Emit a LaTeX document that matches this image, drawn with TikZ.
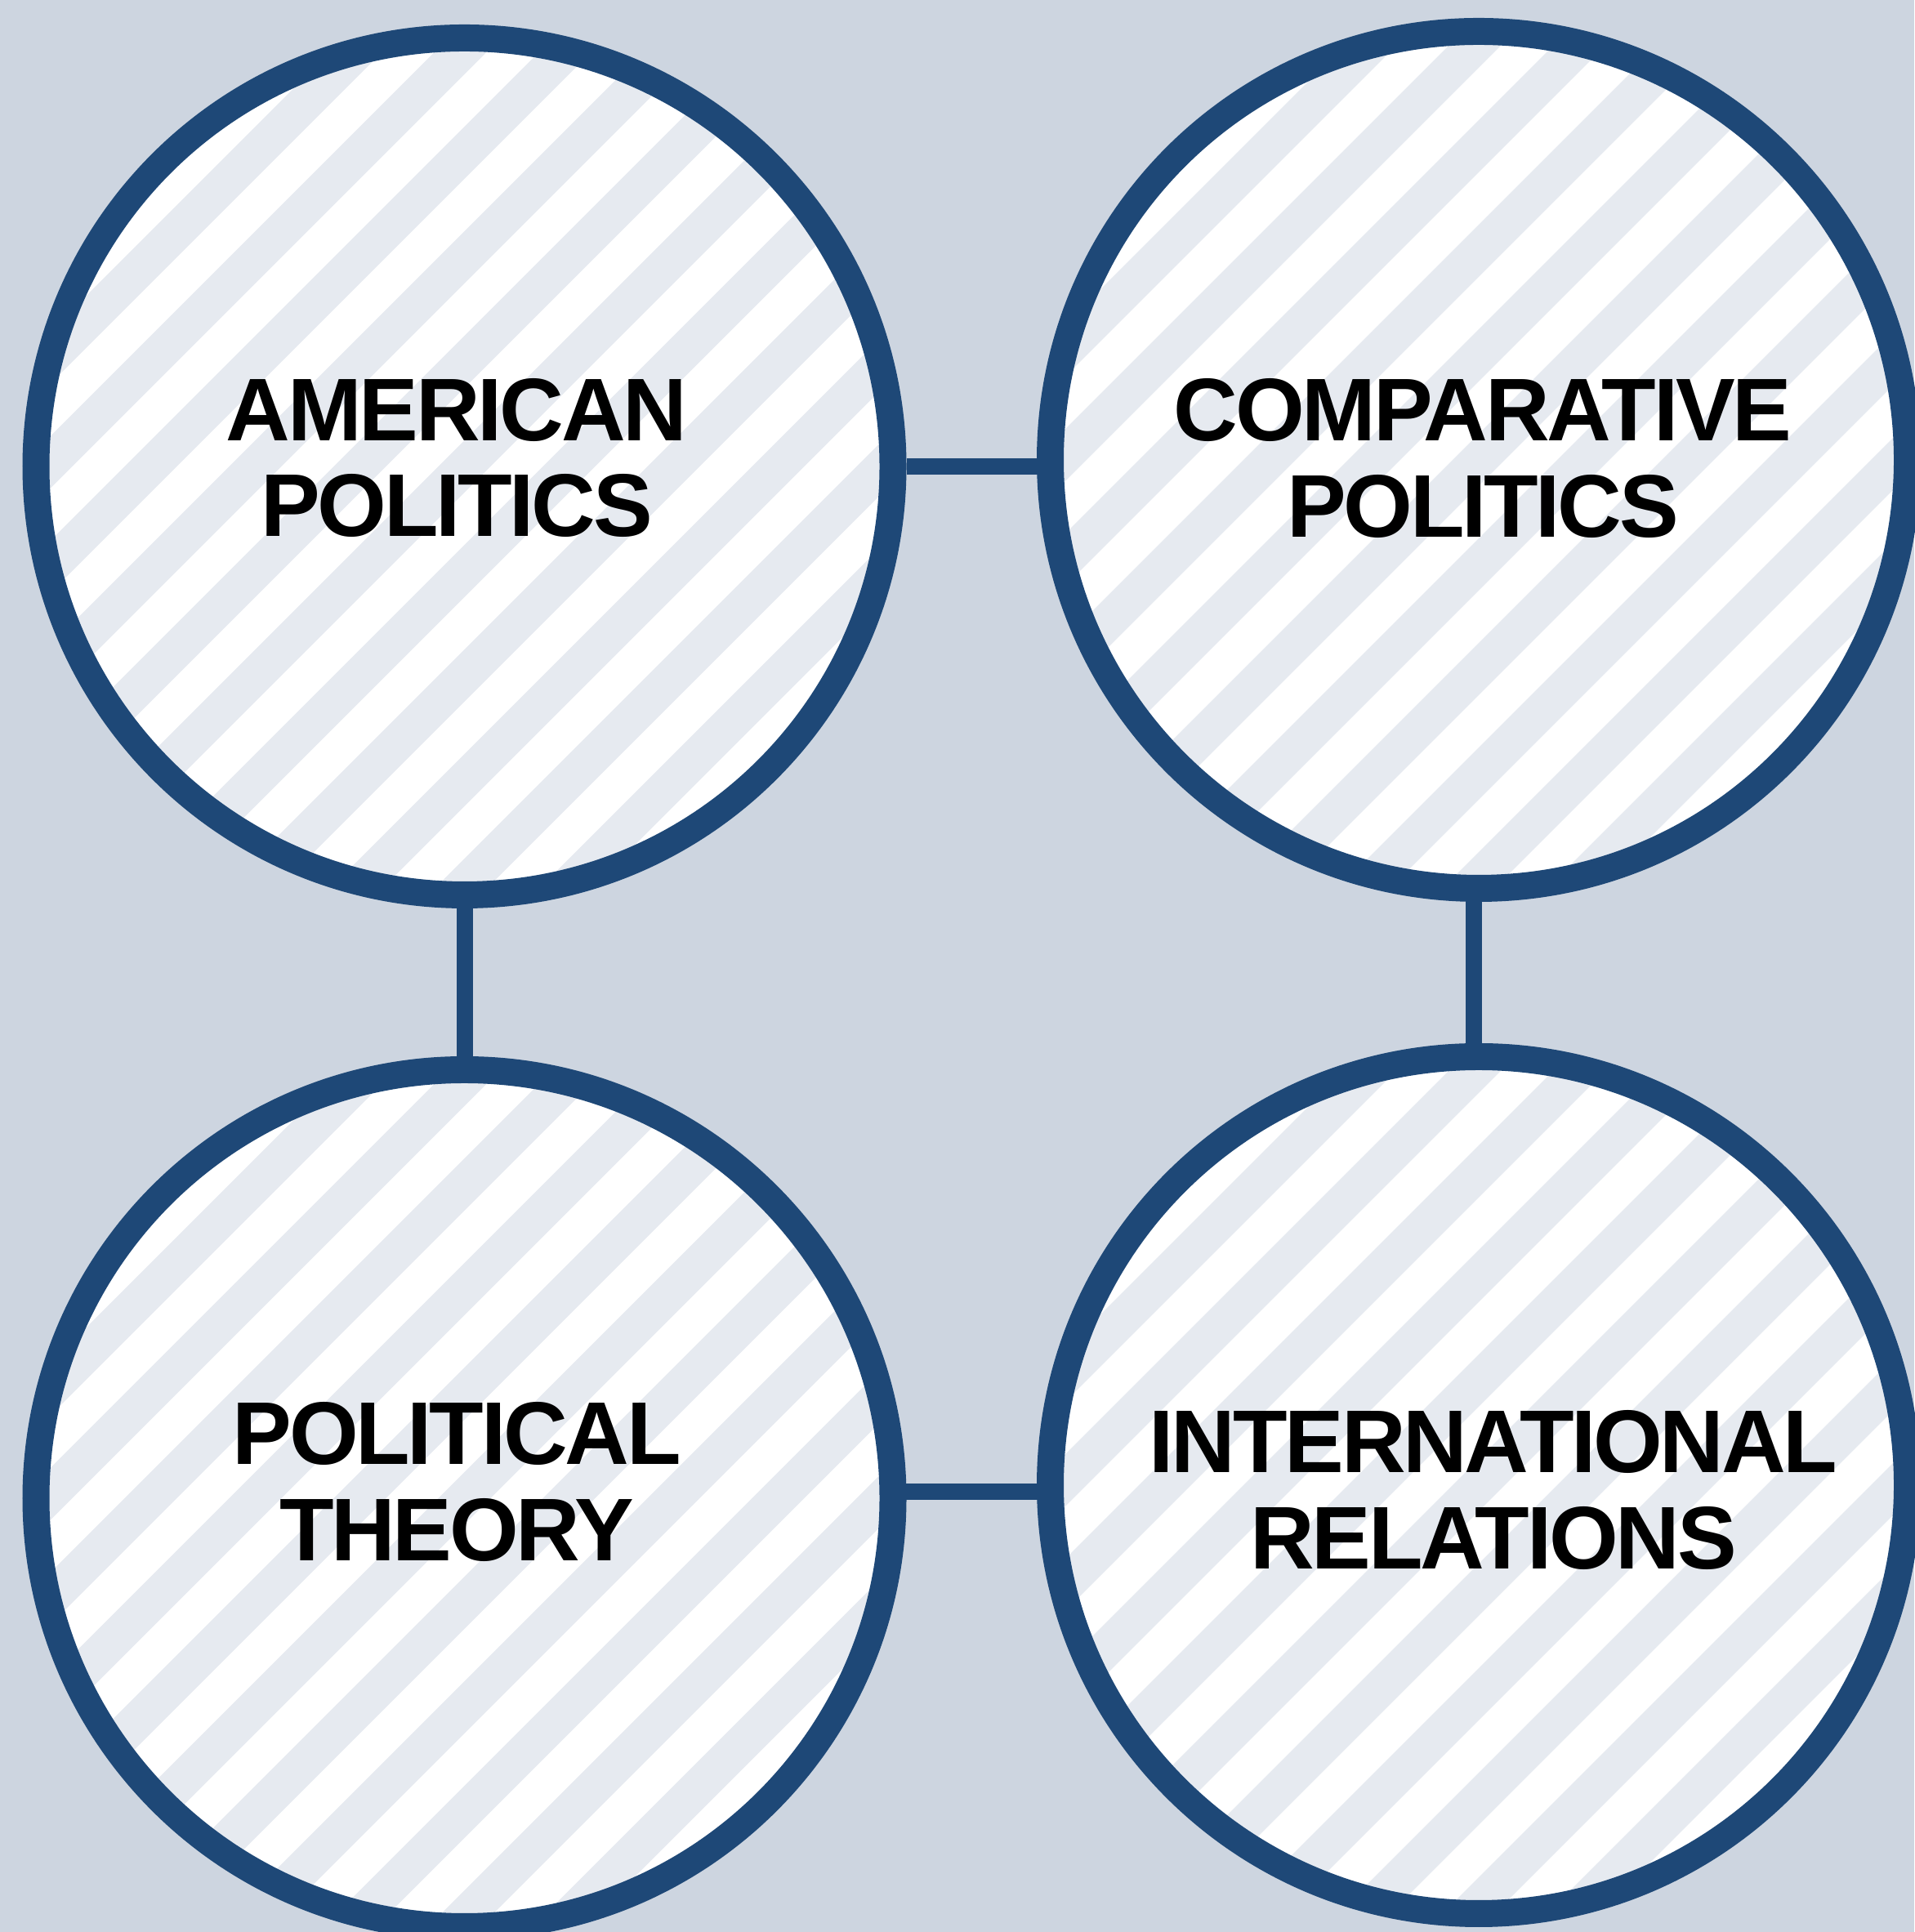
\documentclass[tikz,border=0pt]{standalone}
\usepackage{fontspec}
\setmainfont{Liberation Sans}
\newfontfamily\labelfont{Liberation Sans}[LetterSpace=-3]
\usetikzlibrary{backgrounds,calc}

\definecolor{pagebg}{HTML}{CDD5E0}
\definecolor{ringblue}{HTML}{1E4877}
\definecolor{stripegray}{HTML}{E6EAF0}

\tikzset{
  field/.style={circle, draw=ringblue, line width=3.3mm, fill=white,
    minimum size=104.9mm, inner sep=0pt,
    path picture={
      \foreach \k in {-10,...,10}
        \draw[stripegray, line width=4.5mm]
          ([xshift=\k*12.8mm]path picture bounding box.center) ++(-8,-8) -- ++(16,16);
    }},
  tag/.style={align=center, inner sep=0pt,
    font=\labelfont\bfseries\fontsize{31}{33.4}\selectfont},
  link/.style={draw=ringblue, line width=2mm}
}

\begin{document}
\begin{tikzpicture}

  \useasboundingbox (0,0) rectangle (23.43,23.65);
  \begin{scope}[on background layer]
    \fill[pagebg] (0,0) rectangle (23.43,23.65);
  \end{scope}

  % the four fields
  \node[field] (am) at (5.685,17.94) {};
  \node[field] (cp) at (18.10,18.02) {};
  \node[field] (pt) at (5.685,5.31) {};
  \node[field] (ir) at (18.10,5.47) {};

  % labels
  \node[tag] (amtext) at (5.59,18.045) {AMERICAN\\POLITICS};
  \node[tag] (cptext) at (18.15,18.04) {COMPARATIVE\\POLITICS};
  \node[tag] (pttext) at (5.59,5.51) {POLITICAL\\THEORY};
  \node[tag] (irtext) at (18.28,5.41) {INTERNATIONAL\\RELATIONS};

  % links, behind the rings
  \coordinate (lowmid) at ($(pt)!0.5!(ir)$);
  \begin{scope}[on background layer]
    \draw[link] (am) -- (am -| cp);
    \draw[link] (am) -- (pt);
    \draw[link] ([xshift=-0.6mm]cp.center) -- ([xshift=-0.6mm]cp.center |- ir.center);
    \draw[link] (lowmid -| pt) -- (lowmid -| ir);
  \end{scope}

\end{tikzpicture}
\end{document}
